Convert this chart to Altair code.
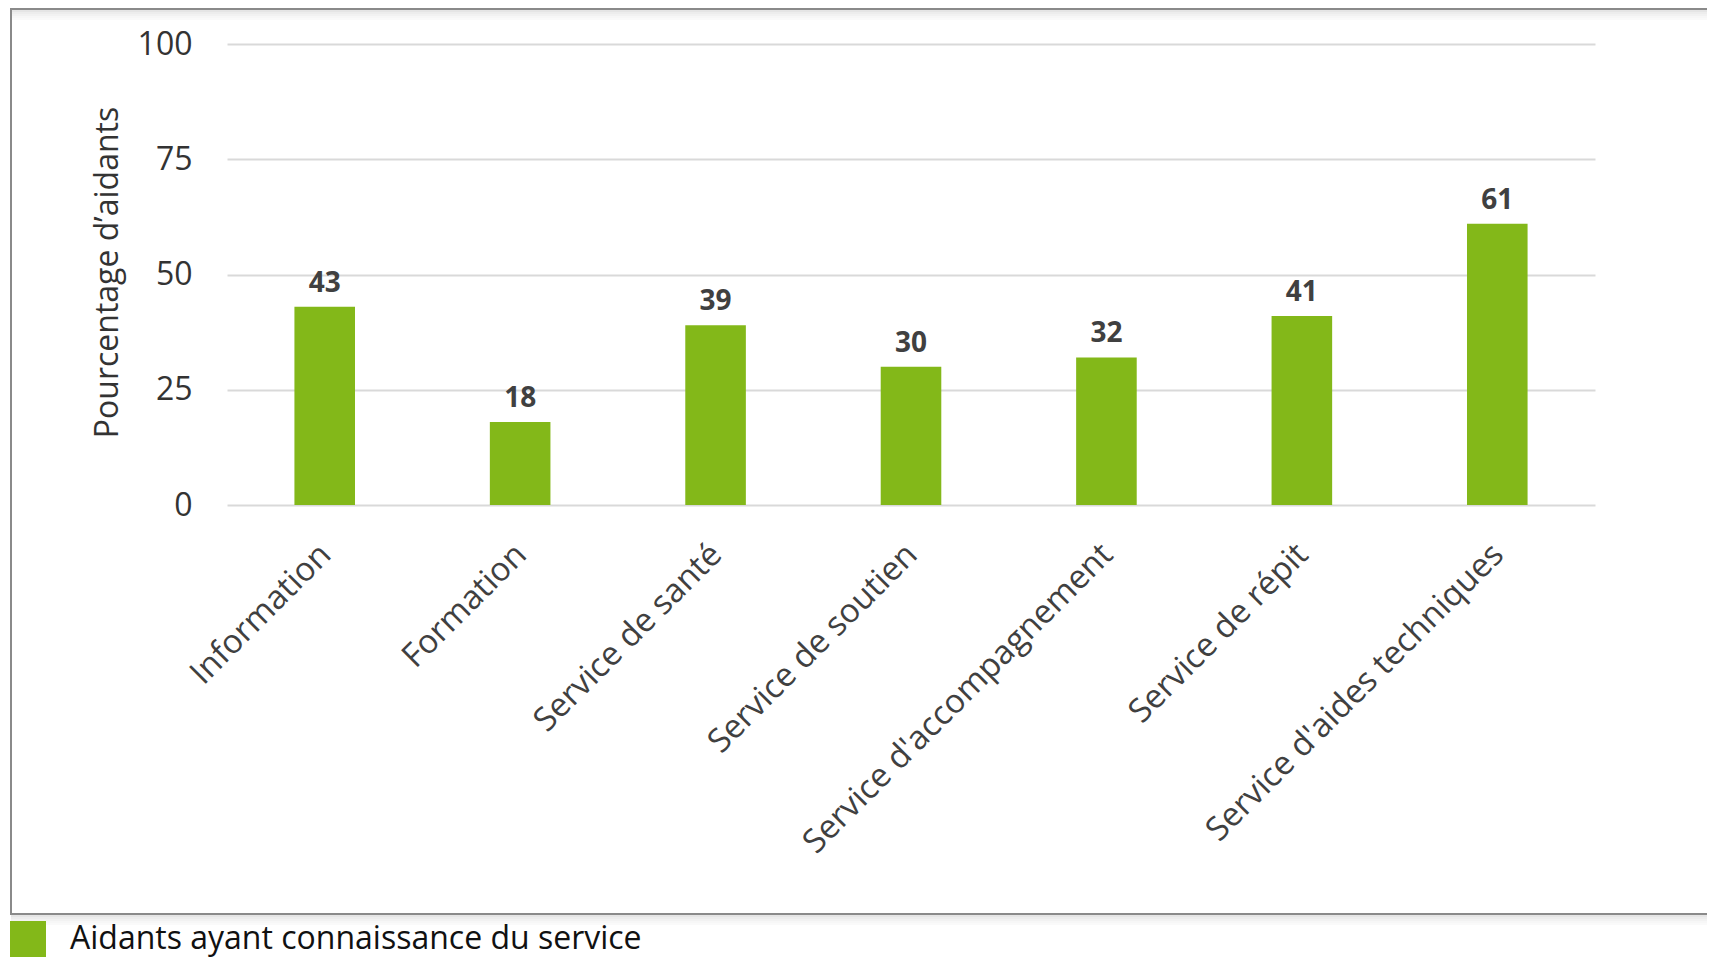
import altair as alt
import pandas as pd

categories = ["Information", "Formation", "Service de santé", "Service de soutien",
              "Service d'accompagnement", "Service de répit", "Service d'aides techniques"]
values = [43, 18, 39, 30, 32, 41, 61]
series_name = "Aidants ayant connaissance du service"
y_ticks = [0, 25, 50, 75, 100]

df = pd.DataFrame({"cat": categories, "val": values, "series": [series_name] * len(categories)})

FONT = "Open Sans"
GREEN = "#83B819"

# plot origin on page is (227, 44)
frame_data = alt.Data(values=[{"k": 1}])
frame = alt.Chart(frame_data).mark_rect(filled=False, stroke="#8a8a8a", strokeWidth=2).encode(
    x=alt.value(-216), x2=alt.value(1600), y=alt.value(-35), y2=alt.value(870)
)
shadow_layers = []
for i, op in enumerate([0.10, 0.07, 0.05, 0.03, 0.02]):
    shadow_layers.append(
        alt.Chart(frame_data).mark_rule(color="#000000", opacity=op, strokeWidth=2).encode(
            x=alt.value(-216), x2=alt.value(1600), y=alt.value(872 + 2 * i)
        )
    )
    shadow_layers.append(
        alt.Chart(frame_data).mark_rule(color="#000000", opacity=op, strokeWidth=2).encode(
            x=alt.value(-215), x2=alt.value(1600), y=alt.value(-33 + 2 * i)
        )
    )

base = alt.Chart(df)
bars = base.mark_bar().encode(
    x=alt.X("cat:N", sort=None, title=None,
            scale=alt.Scale(paddingInner=0.69, paddingOuter=0.345),
            axis=alt.Axis(labelAngle=-45, labelAlign="right", labelBaseline="middle",
                          labelOffset=1, labelPadding=44, ticks=False, domain=False,
                          labelFontSize=33, labelColor="#404040", labelFont=FONT,
                          labelLimit=600)),
    y=alt.Y("val:Q", scale=alt.Scale(domain=[0, 100]), title="Pourcentage d’aidants",
            axis=alt.Axis(values=y_ticks, ticks=False, domain=False, grid=True,
                          gridColor="#d9d9d9", gridWidth=2,
                          labelFontSize=32, labelColor="#333333", labelFont=FONT,
                          labelPadding=35, labelBaseline="middle",
                          titleFontSize=32, titleFont=FONT, titleColor="#333333",
                          titleFontWeight="normal", titleAngle=-90,
                          titleX=-110, titleY=228, titleAlign="center",
                          titleBaseline="alphabetic")),
    color=alt.Color("series:N", scale=alt.Scale(range=[GREEN]),
                    legend=alt.Legend(title=None, orient="none", legendX=-217, legendY=877,
                                      symbolType="square", symbolSize=1296,
                                      symbolStrokeWidth=0, symbolOpacity=1,
                                      labelFontSize=32, labelFont=FONT,
                                      labelColor="#111111", labelOffset=24,
                                      padding=0, labelLimit=800)),
)
labels = base.mark_text(baseline="alphabetic", dy=-15, fontSize=28, fontWeight="bold",
                        font=FONT, color="#404040").encode(
    x=alt.X("cat:N", sort=None),
    y=alt.Y("val:Q"),
    text=alt.Text("val:Q"),
)

chart = alt.layer(frame, *shadow_layers, bars, labels).properties(
    width=1368, height=461,
    autosize=alt.AutoSizeParams(type="none"),
    padding={"left": 219, "top": 36, "right": 112, "bottom": 452},
    background="white",
).configure_view(stroke=None)

chart.save("out.html", embed_options={"renderer": "svg", "actions": False})
